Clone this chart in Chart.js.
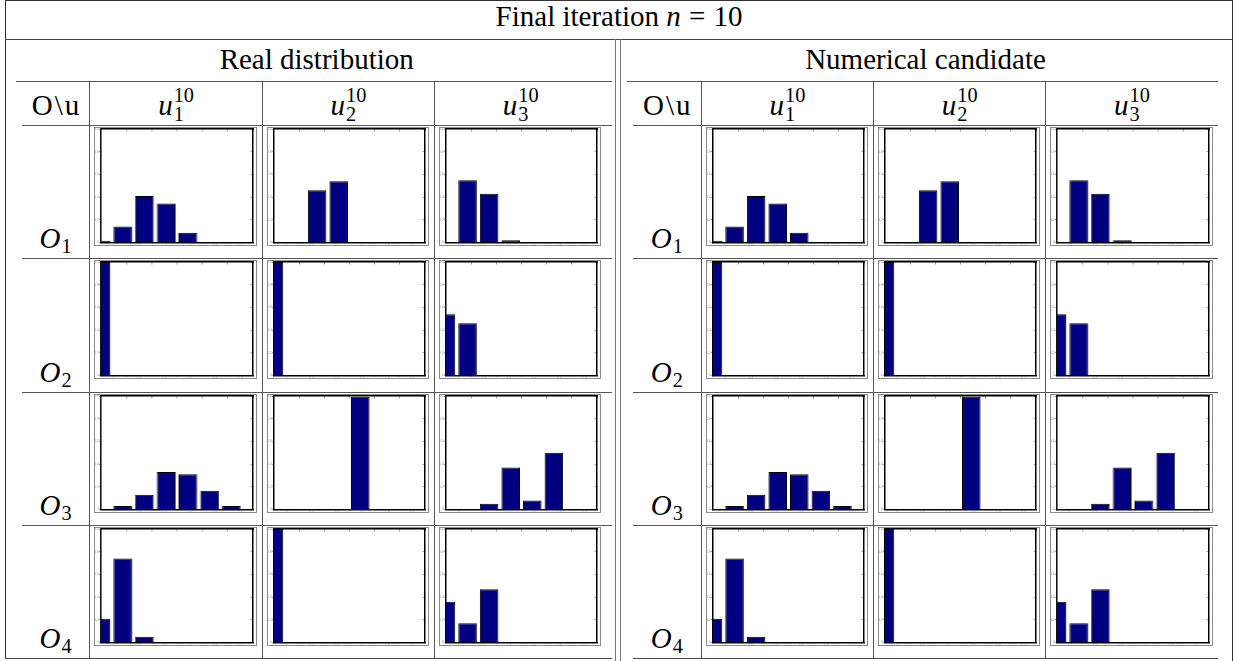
<!DOCTYPE html>
<html>
<head>
<meta charset="utf-8">
<script src="https://cdn.jsdelivr.net/npm/chart.js@4.4.1/dist/chart.umd.min.js"></script>
<style>
    body { margin: 0; background: #fff; width: 1239px; height: 661px; overflow: hidden; position: relative; font-family: "Liberation Serif", serif; color: #000; }
    .ln { position: absolute; }
    .tx { position: absolute; white-space: nowrap; line-height: 1; transform: translateX(-50%); }
    .ss { display: inline-block; position: relative; width: 20px; height: 0; }
    .ss span { position: absolute; left: 1px; font-size: 0.7em; line-height: 1; }
    .sb { position: relative; top: 5px; font-size: 0.7em; margin-left: 1px; }
    .eq { margin: 0 0.28em; }
    .bs { margin: 0 2px; }
    .frame { position: absolute; border: 1px solid #8a8a8a; box-sizing: border-box; }
    .cell { position: absolute; }
</style>
</head>
<body>
<script>
// classes of every small histogram (first and last one are half hidden by the axes)
const bins = ['0', '1', '2', '3', '4', '5', '6', '7'];
const yTickStep = 0.2;

// Real distribution
const realO1u1 = [0.015, 0.14, 0.41, 0.345, 0.085, 0.005, 0, 0];
const realO1u2 = [0, 0, 0.46, 0.54, 0, 0, 0, 0];
const realO1u3 = [0, 0.55, 0.43, 0.02, 0, 0, 0, 0];
const realO2u1 = [1, 0, 0, 0, 0, 0, 0, 0];
const realO2u2 = [1, 0, 0, 0, 0, 0, 0, 0];
const realO2u3 = [0.54, 0.46, 0, 0, 0, 0, 0, 0];
const realO3u1 = [0, 0.03, 0.13, 0.33, 0.31, 0.165, 0.03, 0.005];
const realO3u2 = [0, 0, 0, 0, 0.995, 0.005, 0, 0];
const realO3u3 = [0, 0, 0.05, 0.37, 0.08, 0.5, 0, 0];
const realO4u1 = [0.21, 0.74, 0.05, 0, 0, 0, 0, 0];
const realO4u2 = [1, 0, 0, 0, 0, 0, 0, 0];
const realO4u3 = [0.36, 0.17, 0.47, 0, 0, 0, 0, 0];

// Numerical candidate
const numO1u1 = [0.015, 0.14, 0.41, 0.345, 0.085, 0.005, 0, 0];
const numO1u2 = [0, 0, 0.46, 0.54, 0, 0, 0, 0];
const numO1u3 = [0, 0.55, 0.43, 0.02, 0, 0, 0, 0];
const numO2u1 = [1, 0, 0, 0, 0, 0, 0, 0];
const numO2u2 = [1, 0, 0, 0, 0, 0, 0, 0];
const numO2u3 = [0.54, 0.46, 0, 0, 0, 0, 0, 0];
const numO3u1 = [0, 0.03, 0.13, 0.33, 0.31, 0.165, 0.03, 0.005];
const numO3u2 = [0, 0, 0, 0, 0.995, 0.005, 0, 0];
const numO3u3 = [0, 0, 0.05, 0.37, 0.08, 0.5, 0, 0];
const numO4u1 = [0.21, 0.74, 0.05, 0, 0, 0, 0, 0];
const numO4u2 = [1, 0, 0, 0, 0, 0, 0, 0];
const numO4u3 = [0.36, 0.17, 0.47, 0, 0, 0, 0, 0];

const titleText = 'Final iteration <i>n</i><span class="eq">=</span>10';
const panelTitles = ['Real distribution', 'Numerical candidate'];
const rowNames = ['1', '2', '3', '4'];
const colNames = ['1', '2', '3'];
const iterLabel = '10';

const panelCells = [
    [[realO1u1, realO1u2, realO1u3], [realO2u1, realO2u2, realO2u3], [realO3u1, realO3u2, realO3u3], [realO4u1, realO4u2, realO4u3]],
    [[numO1u1, numO1u2, numO1u3], [numO2u1, numO2u2, numO2u3], [numO3u1, numO3u2, numO3u3], [numO4u1, numO4u2, numO4u3]]
];

// table geometry
const rowTops = [124.7, 258, 391.7, 525];
const rowBottom = 658;
const tabLeft = [21.7, 633];
const tabRight = [611.7, 1218];
const firstColW = 67.6;
const colW = 172.3;
const fs = 29;

function line(x, y, w, h, color) {
    const d = document.createElement('div');
    d.className = 'ln';
    d.style.cssText = `left:${x}px;top:${y}px;width:${w}px;height:${h}px;background:${color}`;
    document.body.appendChild(d);
}

function text(html, cx, base) {
    const d = document.createElement('div');
    d.className = 'tx';
    d.innerHTML = html;
    d.style.left = cx + 'px';
    d.style.top = (base - 0.8375 * fs) + 'px';
    d.style.fontSize = fs + 'px';
    document.body.appendChild(d);
}

// tick marks only, outside (positive) or inside (negative) the plot box
function axisGrid(len) {
    return { drawOnChartArea: false, tickLength: len, color: '#666', lineWidth: 0.6 };
}

function histogram(x, y, values) {
    const w = 162.4, h = 119.3;
    const holder = document.createElement('div');
    holder.className = 'cell';
    holder.style.cssText = `left:${x}px;top:${y}px;width:${w}px;height:${h}px`;
    const canvas = document.createElement('canvas');
    holder.appendChild(canvas);
    document.body.appendChild(holder);

    const frame = document.createElement('div');
    frame.className = 'frame';
    frame.style.cssText = `left:${x}px;top:${y}px;width:${w}px;height:${h}px`;
    document.body.appendChild(frame);

    const border = { color: '#000', width: 1.5 };
    const tickFont = { size: 3.5, family: 'Liberation Sans' };
    new Chart(canvas, {
        type: 'bar',
        data: {
            labels: bins,
            datasets: [{
                data: values,
                backgroundColor: '#000080',
                borderColor: '#000',
                borderWidth: 1,
                barPercentage: 0.86,
                categoryPercentage: 1,
                clip: 0,
                xAxisID: 'x',
                yAxisID: 'y'
            }]
        },
        options: {
            responsive: true,
            maintainAspectRatio: false,
            animation: false,
            layout: { padding: 0 },
            plugins: { legend: { display: false }, tooltip: { enabled: false } },
            scales: {
                x: { type: 'category', offset: false, display: false },
                xb: {
                    type: 'linear', position: 'bottom', min: 0, max: 1,
                    afterFit: (s) => { s.height = 3.8; },
                    ticks: { stepSize: yTickStep, font: tickFont, color: '#999', padding: 0, maxRotation: 0 },
                    grid: axisGrid(1.5), border: border
                },
                xt: {
                    type: 'linear', position: 'top', min: 0, max: 1,
                    afterFit: (s) => { s.height = 1.3; },
                    ticks: { display: false, stepSize: yTickStep },
                    grid: axisGrid(-2.5), border: border
                },
                y: {
                    type: 'linear', position: 'left', min: 0, max: 1,
                    afterFit: (s) => { s.width = 7; },
                    ticks: { stepSize: yTickStep, font: tickFont, color: '#999', padding: 0 },
                    grid: axisGrid(2), border: border
                },
                yr: {
                    type: 'linear', position: 'right', min: 0, max: 1,
                    afterFit: (s) => { s.width = 4.4; },
                    ticks: { display: false, stepSize: yTickStep },
                    grid: axisGrid(-2.5), border: border
                }
            }
        }
    });
}

// outer frame and title row
line(5, 0, 1228, 1, '#333');
line(4.5, 0, 1.2, 658.5, '#333');
line(1232, 0, 1.2, 661, '#333');
line(5, 38.5, 1228, 1.2, '#444');
text(titleText, 619, 26);

// double rule between the two panels
line(615, 39, 1.3, 622, '#777');
line(620, 39, 1.3, 622, '#777');

for (let p = 0; p < 2; p++) {
    const L = tabLeft[p], R = tabRight[p];
    const centre = (L + R) / 2;
    text(panelTitles[p], centre, 69);
    line(L - 6, 81, R - L + 6, 1, '#555');

    const cols = colNames.map((_, i) => L + firstColW + i * colW);

    // header row
    text('O<span class="bs">\\</span>u', L + firstColW / 2, 115);
    colNames.forEach((c, i) => {
        text(`<i>u</i><span class="ss"><span style="bottom:9px">${iterLabel}</span><span style="bottom:-10px">${c}</span></span>`, cols[i] + colW / 2, 115);
    });

    // rules
    rowTops.forEach((t) => line(L, t, R - L, 1, '#555'));
    line(p === 0 ? 5 : L, rowBottom, p === 0 ? R - 5 : R - L, 1.2, '#444');
    cols.forEach((cx) => line(cx, 81, 1, rowBottom - 81, '#555'));

    // rows of histograms
    rowNames.forEach((r, ri) => {
        const top = rowTops[ri];
        const bottom = ri < 3 ? rowTops[ri + 1] : rowBottom;
        text(`<i>O</i><span class="sb">${r}</span>`, L + firstColW / 2, bottom - 9.5);
        cols.forEach((cx, ci) => {
            histogram(cx + 5, top + 2, panelCells[p][ri][ci]);
        });
    });
}
</script>
</body>
</html>
